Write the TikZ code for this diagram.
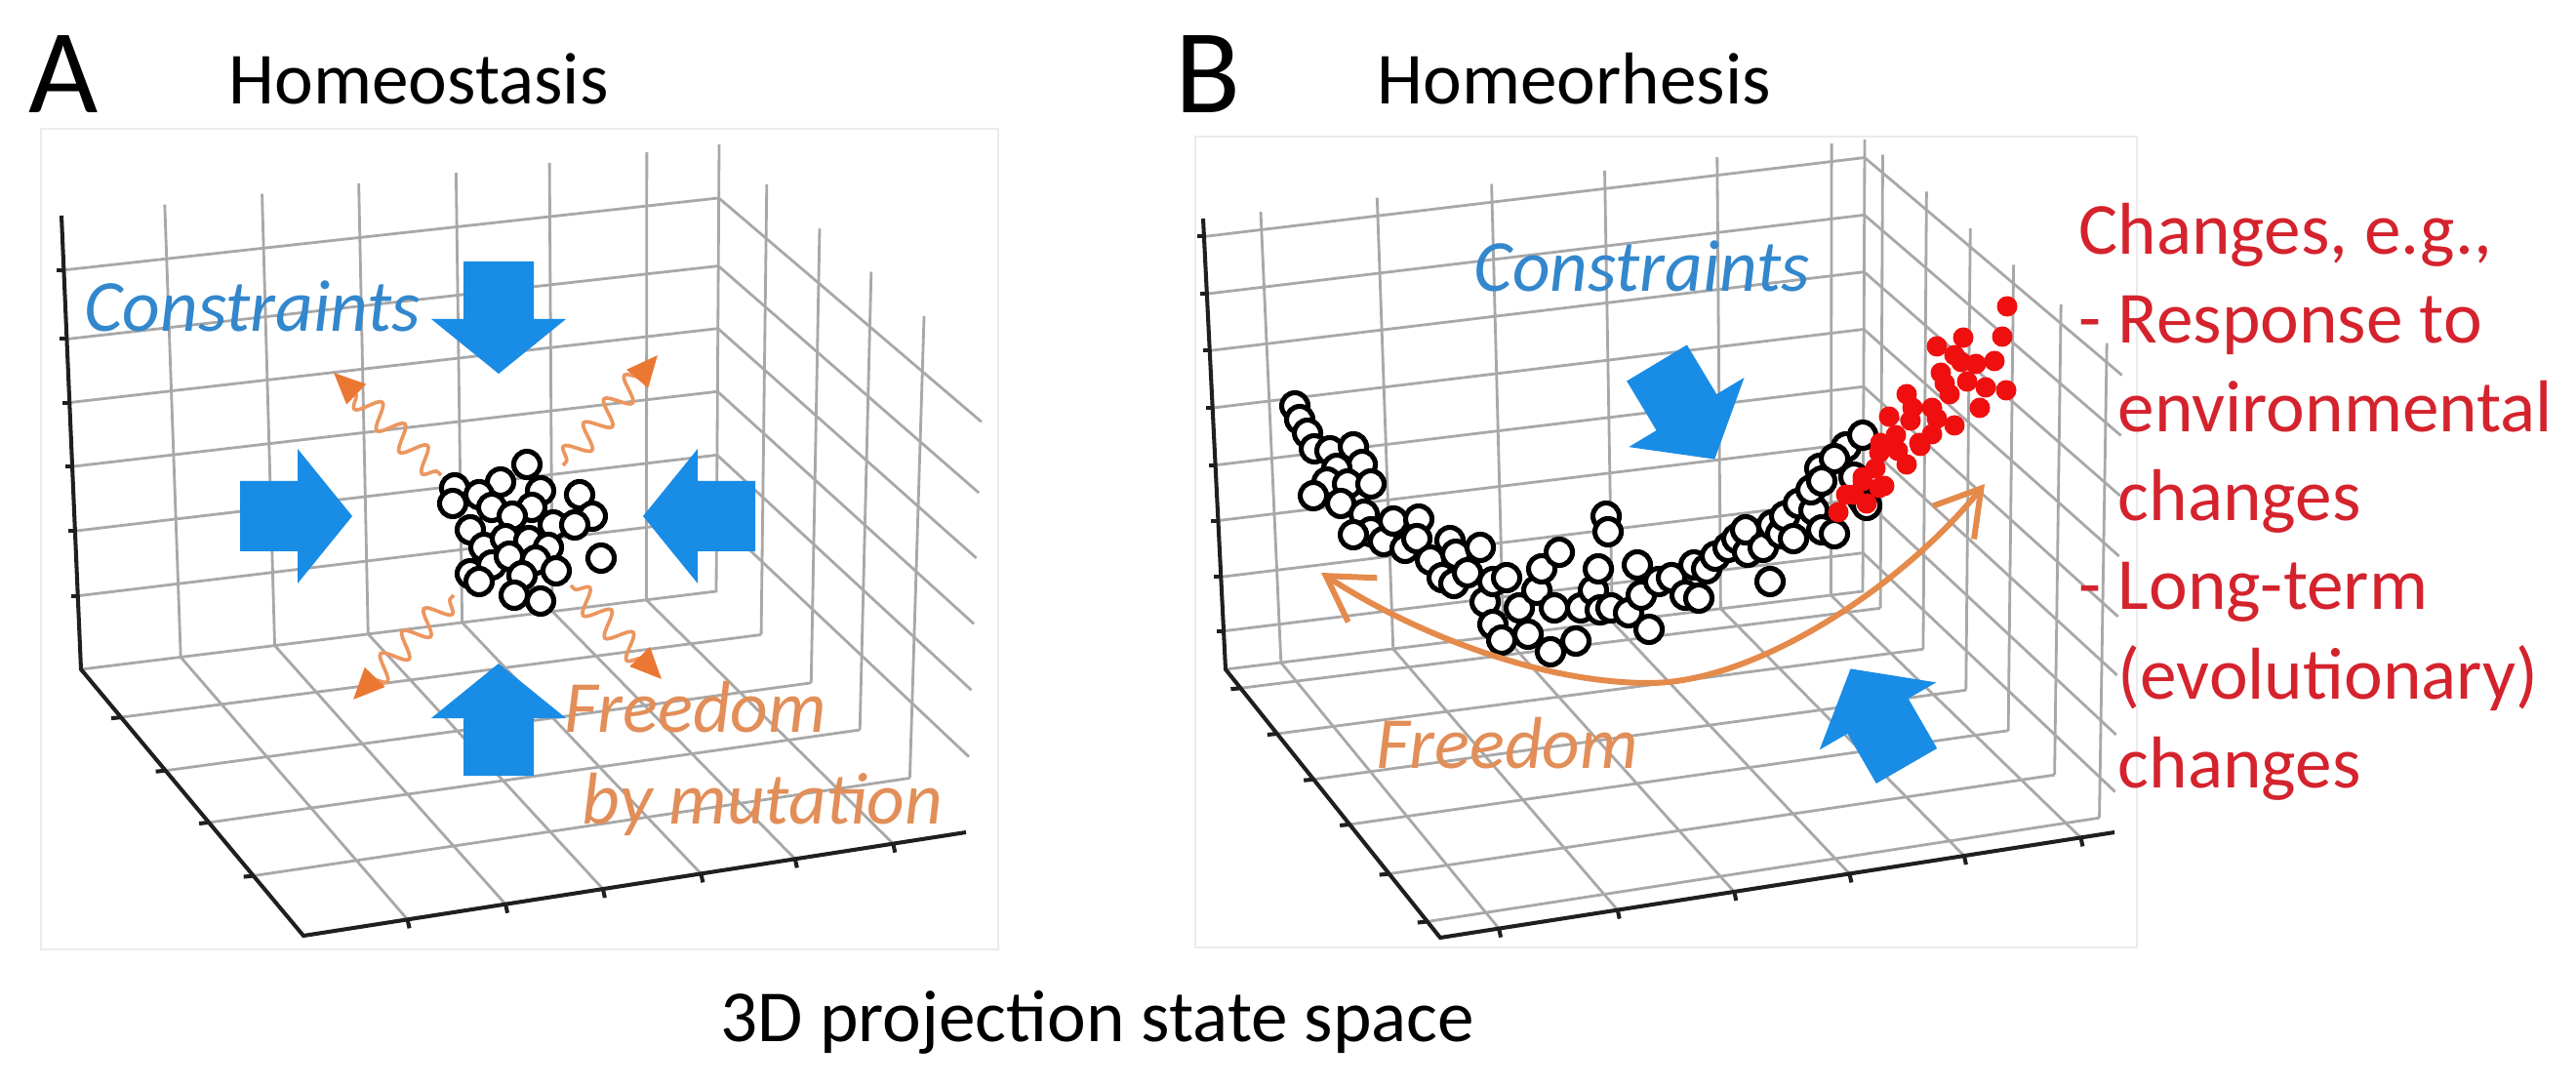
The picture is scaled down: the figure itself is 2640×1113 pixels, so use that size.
\documentclass[tikz,border=0pt]{standalone}
\usepackage{fontspec}
\setmainfont{Carlito}
\usetikzlibrary{calc,arrows.meta,decorations.pathmorphing}
\definecolor{cblue}{RGB}{25,140,230}
\definecolor{ctext}{RGB}{50,135,205}
\definecolor{corange}{RGB}{226,142,88}
\definecolor{carc}{RGB}{228,138,75}
\definecolor{cwave}{RGB}{236,150,95}
\definecolor{chead}{RGB}{235,120,50}
\definecolor{cred}{RGB}{212,35,45}
\definecolor{cdot}{RGB}{240,15,15}
\definecolor{cgrid}{RGB}{168,168,168}
\newcommand\mytsz{\fontsize{21.4}{25.7}\selectfont}
\newcommand\plotbox[4]{%
  \foreach \sa in {#2} {\draw[gridline] ($(#1O)!\sa!(#1C)$) -- ($(#1T)!\sa!(#1CT)$);}
  \foreach \sa in {#2} {\draw[gridline] ($(#1O)!\sa!(#1C)$) -- ($(#1F)!\sa!(#1R)$);}
  \foreach \ta in {#3} {\draw[gridline] ($(#1O)!\ta!(#1F)$) -- ($(#1C)!\ta!(#1R)$);}
  \foreach \ta in {#3} {\draw[gridline] ($(#1C)!\ta!(#1R)$) -- ($(#1CT)!\ta!(#1RT)$);}
  \foreach \ua in {#4} {\draw[gridline] ($(#1O)!\ua!(#1T)$) -- ($(#1C)!\ua!(#1CT)$);}
  \foreach \ua in {#4} {\draw[gridline] ($(#1C)!\ua!(#1CT)$) -- ($(#1R)!\ua!(#1RT)$);}
  \draw[gridline] (#1O) -- (#1C) -- (#1CT);
  \draw[axisline] (#1T) -- (#1O) -- (#1F) -- (#1R);
  \foreach \ua in {#4} {\draw[axisline] ($(#1O)!\ua!(#1T)$) -- ++(-7,0);}
  \foreach \ta in {#3} {\draw[axisline] ($(#1O)!\ta!(#1F)$) -- ++(-10,1);}
  \foreach \sa in {#2} {\draw[axisline] ($(#1F)!\sa!(#1R)$) -- ++(2,9);}
}
\tikzset{
  gridline/.style={draw=cgrid, line width=0.8pt},
  axisline/.style={draw=black!88, line width=1.15pt},
  hollow/.style={draw=black, fill=white, line width=1.45pt},
  reddot/.style={fill=cdot},
  lbl/.style={inner sep=0pt, anchor=base west},
  blockarrow/.pic={\fill[cblue] (0,-36) -- (59,-36) -- (59,-69) -- (115,0) -- (59,69) -- (59,36) -- (0,36) -- cycle;},
  wavearrow/.style={draw=cwave, line width=1.05pt, decorate,
    decoration={snake, amplitude=1.25mm, segment length=3.2mm, pre length=0.5mm, post length=2.5mm},
    -{Triangle[length=3.2mm,width=2.8mm,color=chead,fill=chead]}},
  freearrow/.style={draw=carc, line width=1.7pt,
    {Straight Barb[length=4.5mm,width=5.4mm]}-{Straight Barb[length=4.5mm,width=5.4mm]}},
  frame/.style={draw=black!8, line width=0.5pt}
}
\begin{document}
\begin{tikzpicture}[x=0.01cm, y=-0.01cm]
\useasboundingbox (0,0) rectangle (2640,1113);
\fill[white] (0,0) rectangle (2640,1113);

% ---------------- Panel A frame ----------------
\draw[frame] (42,132) rectangle (1023,973);
\coordinate (AO) at (83,686);
\coordinate (AC) at (734,606);
\coordinate (AF) at (311,959);
\coordinate (AR) at (990,853);
\coordinate (AT) at (63,221);
\coordinate (ACT) at (737,148);
\coordinate (ART) at (1008,375);
\plotbox{A}{0.157,0.305,0.452,0.6,0.742,0.89}{0.18,0.38,0.575,0.775}{0.162,0.305,0.447,0.588,0.728,0.88}

% ---------------- Panel B frame ----------------
\draw[frame] (1225,140) rectangle (2190,971);
\coordinate (BO) at (1256,686);
\coordinate (BC) at (1909,606);
\coordinate (BF) at (1476,961);
\coordinate (BR) at (2167,853);
\coordinate (BT) at (1233,224);
\coordinate (BCT) at (1911,143);
\coordinate (BRT) at (2175,365);
\plotbox{B}{0.087,0.263,0.436,0.607,0.777,0.95}{0.07,0.24,0.41,0.578,0.762,0.94}{0.085,0.205,0.33,0.453,0.58,0.707,0.833,0.96}

% ---------------- Panel A content ----------------
\pic[rotate=-90] at (511,268) {blockarrow};
\pic[rotate=90] at (511,795) {blockarrow};
\pic[rotate=0] at (246,529) {blockarrow};
\pic[rotate=180] at (774,529) {blockarrow};

\coordinate (w1a) at (452,487); \coordinate (w1b) at (342,382);
\coordinate (w2a) at (577,477); \coordinate (w2b) at (674,364);
\coordinate (w3a) at (465,610); \coordinate (w3b) at (362,717);
\coordinate (w4a) at (585,600); \coordinate (w4b) at (678,696);
\draw[wavearrow] (w1a) -- (w1b);
\draw[wavearrow] (w2a) -- (w2b);
\draw[wavearrow] (w3a) -- (w3b);
\draw[wavearrow] (w4a) -- (w4b);

\foreach \x/\y in {540/476,513/494,466/500,491/507,554/503,594/507,464/516,504/520,545/520,
  607/529,525/529,482/543,567/538,589/538,496/561,518/552,542/554,562/561,
  482/588,504/579,522/570,549/574,570/585,535/590,616/572,491/596,527/610,554/616}
  {\draw[hollow] (\x,\y) circle[radius=13.5];}

% ---------------- Panel B content ----------------
\foreach \x/\y in {1327/416,1332/430,1340/444,1347/460,1363/462,1387/458,1396/476,1370/480,
  1360/494,1381/496,1405/496,1346/508,1374/516,1398/527,1405/545,1387/548,1418/555,1428/534,
  1454/532,1440/562,1452/552,1466/574,1486/554,1492/568,1517/561,1478/592,1490/598,1504/587,
  1522/617,1530/596,1544/592,1530/640,1539/656,1557/623,1566/650,1575/605,1580/583,
  1589/668,1593/623,1598/566,1615/657,1620/623,1633/605,1640/625,1638/583,1646/529,1648/545,
  1651/623,1669/628,1678/579,1682/610,1690/645,1700/596,1713/592,1727/610,1741/613,1736/579,
  1749/583,1758/570,1771/561,1780/552,1791/566,1789/543,1807/561,1814/596,1816/538,1825/547,
  1829/529,1838/552,1843/516,1859/523,1856/502,1867/543,1880/547,1865/480,1892/458,1909/446,
  1880/470,1867/493,1900/489,1909/512,1913/518}
  {\draw[hollow] (\x,\y) circle[radius=13.5];}

\foreach \x/\y in {2057/314,2052/345,2044/370,2056/400,2025/373,2010/371,2003/364,2016/391,
  2035/397,2029/418,1993/393,1998/404,2003/436,1985/429,1980/418,1980/445,1960/418,1954/404,
  1958/431,1943/446,1936/427,1968/457,1945/462,1927/454,1926/464,1954/476,1967/454,1922/480,
  1909/489,1926/500,1931/498,1909/493,1913/516,1900/507,1892/507,1884/525,1989/382,2012/346,1985/355}
  {\fill[reddot] (\x,\y) circle[radius=10.5];}

\coordinate (fl) at (1354,587);
\coordinate (fr) at (2034,496);
\draw[freearrow] (fl) .. controls (1450,650) and (1580,700) .. (1690,700)
                      .. controls (1800,700) and (1950,600) .. (fr);

\pic[rotate=-59] at (1698,372) {blockarrow};
\pic[rotate=120] at (1954,785) {blockarrow};

% ---------------- Texts ----------------
\node[lbl] (labA) at (29,116) {\fontsize{35}{40}\selectfont A};
\node[lbl] (labB) at (1204,116) {\fontsize{35}{40}\selectfont B};
\node[lbl] (titA) at (234,107) {\mytsz Homeostasis};
\node[lbl] (titB) at (1411,107) {\mytsz Homeorhesis};
\node[lbl] (cap) at (738,1067) {\mytsz 3D projection state space};
\node[lbl, text=ctext] (conA) at (86,340) {\mytsz\itshape Constraints};
\node[lbl, text=ctext] (conB) at (1510,299) {\mytsz\itshape Constraints};
\node[lbl, text=corange] (freeA1) at (578,750) {\mytsz\itshape Freedom};
\node[lbl, text=corange] (freeA2) at (596,844) {\mytsz\itshape by mutation};
\node[lbl, text=corange] (freeB) at (1410,787) {\mytsz\itshape Freedom};
\node[lbl, text=cred] (r1) at (2130,261) {\mytsz Changes, e.g.,};
\node[lbl, text=cred] (r2) at (2130,352) {\mytsz - Response to};
\node[lbl, text=cred] (r3) at (2130,443) {\mytsz\hphantom{- }environmental};
\node[lbl, text=cred] (r4) at (2130,534) {\mytsz\hphantom{- }changes};
\node[lbl, text=cred] (r5) at (2130,625) {\mytsz - Long-term};
\node[lbl, text=cred] (r6) at (2130,716) {\mytsz\hphantom{- }(evolutionary)};
\node[lbl, text=cred] (r7) at (2130,807) {\mytsz\hphantom{- }changes};
\end{tikzpicture}
\end{document}
